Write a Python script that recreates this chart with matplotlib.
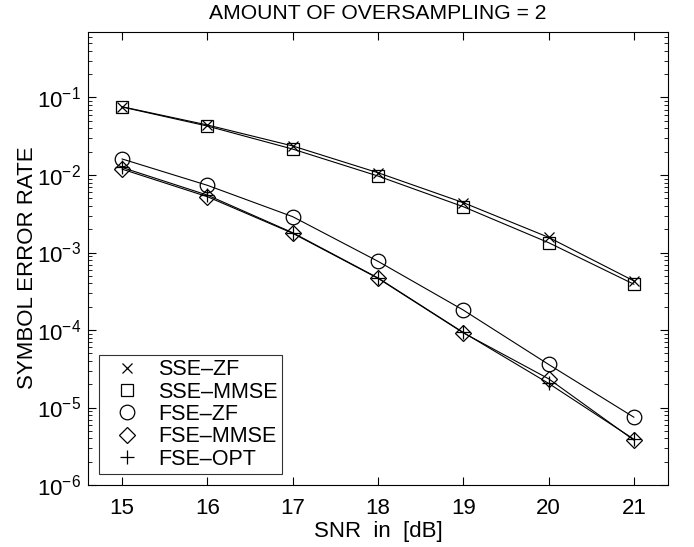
import matplotlib
matplotlib.use("Agg")
import matplotlib.pyplot as plt
import numpy as np

plt.rcParams['font.family'] = ['Liberation Sans', 'DejaVu Sans']
plt.rcParams['mathtext.fontset'] = 'custom'
plt.rcParams['mathtext.rm'] = 'Liberation Sans'
plt.rcParams['mathtext.it'] = 'Liberation Sans:italic'
plt.rcParams['mathtext.bf'] = 'Liberation Sans:bold'

# SNR in dB
snr = [15, 16, 17, 18, 19, 20, 21]

# symbol error rates
sse_zf = [0.076, 0.0442, 0.0237, 0.0107, 0.0044, 0.00157, 0.00043]
sse_mmse = [0.0754, 0.0428, 0.0216, 0.0097, 0.0039, 0.00134, 0.00039]
fse_zf = [0.0161, 0.00736, 0.0029, 0.00077, 0.000181, 3.6e-5, 7.5e-6]
fse_mmse = [0.0119, 0.00525, 0.00177, 0.000465, 9.2e-5, 2.35e-5, 3.8e-6]
fse_opt = [0.0125, 0.0055, 0.0018, 0.00047, 9.3e-5, 2.05e-5, 3.9e-6]

names = ['SSE\u2013ZF', 'SSE\u2013MMSE', 'FSE\u2013ZF', 'FSE\u2013MMSE', 'FSE\u2013OPT']
markers = ['x', 's', 'o', 'D', '+']
msizes = [7.5, 8.5, 10.5, 8, 10]

fig = plt.figure(figsize=(6.94, 5.47), dpi=100)
ax = fig.add_axes([0.1268, 0.1133, 0.8357, 0.8282])

series = [sse_zf, sse_mmse, fse_zf, fse_mmse, fse_opt]
for vals, m, ms, nm in zip(series, markers, msizes, names):
    # the line itself, then marker-only copy so the legend shows just markers
    ax.plot(snr, vals, color='black', lw=0.8)
    ax.plot(snr, vals, ls='none', marker=m, ms=ms, mfc='none', mec='black',
            mew=0.9, label=nm)

ax.set_yscale('log')
ax.set_xlim(14.6, 21.4)
ax.set_ylim(1e-6, 0.7)
ax.set_xticks(snr)
ax.set_yticks([1e-6, 1e-5, 1e-4, 1e-3, 1e-2, 1e-1])

ax.tick_params(which='both', direction='in', top=True, right=True, labelsize=16)
ax.tick_params(axis='x', pad=9)
ax.tick_params(axis='y', pad=5)
ax.tick_params(which='major', length=6, width=0.8)
ax.tick_params(which='minor', length=3, width=0.6)
ax.tick_params(axis='x', which='minor', bottom=False, top=False)
for s in ax.spines.values():
    s.set_linewidth(0.8)

ax.set_title('AMOUNT OF OVERSAMPLING = 2', fontsize=15.2, pad=9)
ax.set_xlabel('SNR  in  [dB]', fontsize=16, labelpad=2)
ax.set_ylabel('SYMBOL ERROR RATE', fontsize=16)
ax.yaxis.set_label_coords(-0.086, 0.479)

leg = ax.legend(loc='lower left', fontsize=15.5, frameon=True, fancybox=False,
                edgecolor='black', borderpad=0.22, labelspacing=0.06,
                handlelength=2.17, handletextpad=0.36, borderaxespad=0.5)
leg.get_frame().set_linewidth(0.8)

fig.savefig('out.png', dpi=100)
